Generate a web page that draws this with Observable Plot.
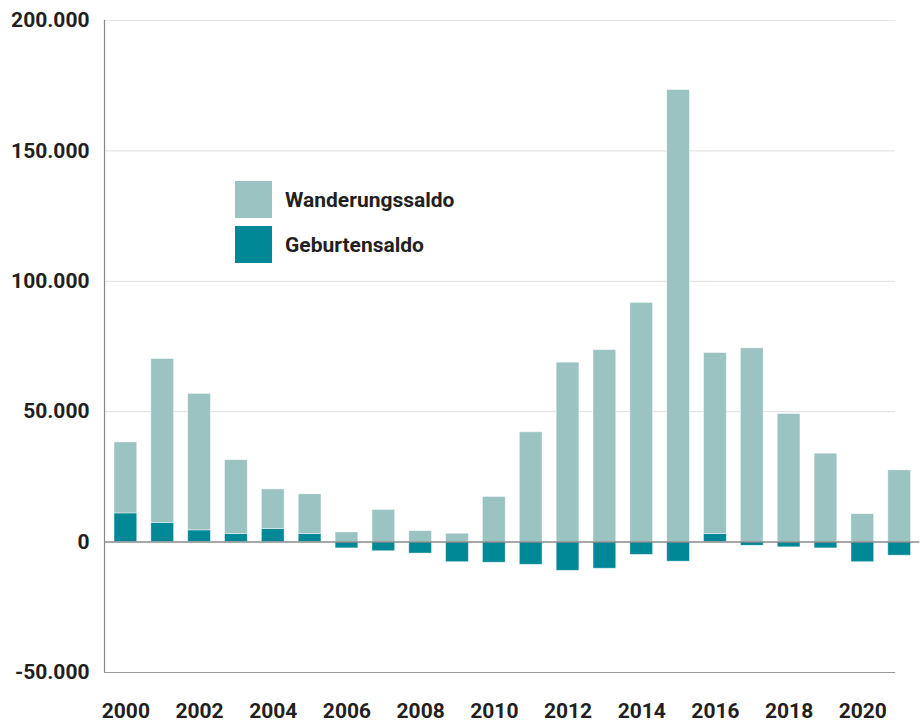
<!DOCTYPE html>
<html>
<head>
<meta charset="utf-8">
<script src="https://cdn.jsdelivr.net/npm/d3@7"></script>
<script src="https://cdn.jsdelivr.net/npm/@observablehq/plot@0.6"></script>
<style>
  html, body { margin: 0; padding: 0; background: #fff; }
  #wrap { position: relative; width: 922px; height: 722px; font-family: Roboto, "Noto Sans", sans-serif; }
  .legend { position: absolute; left: 235px; top: 181px; }
  .item { display: flex; align-items: center; height: 37px; margin-bottom: 8px; }
  .sw { width: 37px; height: 37px; margin-right: 13px; }
  .lab { font-size: 21px; font-weight: 700; color: #231f20; }
</style>
</head>
<body>
<div id="wrap"></div>
<script>
// ---- data ----
const years = [2000, 2001, 2002, 2003, 2004, 2005, 2006, 2007, 2008, 2009, 2010,
               2011, 2012, 2013, 2014, 2015, 2016, 2017, 2018, 2019, 2020, 2021];
const geburtensaldo = [11000, 7300, 4500, 3100, 5000, 3100, -2400, -3500, -4400, -7700, -7900,
                       -8700, -11000, -10200, -4900, -7500, 3100, -1400, -2000, -2400, -7700, -5200];
const wanderungssaldo = [27200, 62900, 52300, 28300, 15200, 15200, 3700, 12300, 4200, 3200, 17300,
                         42100, 68800, 73600, 91700, 173300, 69400, 74300, 49100, 33900, 10700, 27500];
const seriesNames = ["Geburtensaldo", "Wanderungssaldo"];
const seriesColors = ["#008896", "#9bc3c1"];
const yTicks = [-50000, 0, 50000, 100000, 150000, 200000];
const xTicks = [2000, 2002, 2004, 2006, 2008, 2010, 2012, 2014, 2016, 2018, 2020];
const legendOrder = ["Wanderungssaldo", "Geburtensaldo"];

// ---- build table ----
const rows = [];
years.forEach((yr, i) => {
  rows.push({year: yr, series: "Geburtensaldo", value: geburtensaldo[i]});
  rows.push({year: yr, series: "Wanderungssaldo", value: wanderungssaldo[i]});
});

const de = d3.formatLocale({decimal: ",", thousands: ".", grouping: [3], currency: ["", " €"], minus: "-"});
const fmt = de.format(",");

const xMin = 1999.42, xMax = 2021.62, gridEnd = 2020.89;
const half = 0.308;

const chart = Plot.plot({
  width: 922,
  height: 722,
  marginLeft: 104,
  marginRight: 0,
  marginTop: 20,
  marginBottom: 50,
  style: {fontFamily: "Roboto, sans-serif", fontSize: "21px", fontWeight: 700, color: "#231f20", background: "#fff"},
  x: {domain: [xMin, xMax], ticks: xTicks, tickFormat: d => String(d), tickSize: 0, tickPadding: 31, label: null},
  y: {domain: [-50000, 200000], ticks: yTicks, tickFormat: fmt, tickSize: 0, tickPadding: 15, label: null},
  color: {domain: seriesNames, range: seriesColors},
  marks: [
    Plot.ruleY(yTicks.filter(d => d > 0), {x1: xMin, x2: gridEnd, stroke: "#e5e5e5", strokeWidth: 1.2}),
    Plot.rectY(rows, {
      x1: d => d.year - half,
      x2: d => d.year + half,
      y: "value",
      fill: "series",
      stroke: "#ffffff",
      strokeOpacity: 0.5,
      strokeWidth: 0.8
    }),
    Plot.ruleY([0], {x1: xMin, x2: 2021.55, stroke: "#8a8a8a", strokeOpacity: 0.75, strokeWidth: 2}),
    Plot.ruleY([-50000], {x1: xMin, x2: gridEnd, stroke: "#999", strokeWidth: 1.2}),
    Plot.ruleX([xMin], {y1: -50000, y2: 200000, stroke: "#888", strokeWidth: 1.2})
  ]
});

const wrap = document.getElementById("wrap");
wrap.appendChild(chart);

// legend overlay
const leg = document.createElement("div");
leg.className = "legend";
legendOrder.forEach(name => {
  const it = document.createElement("div");
  it.className = "item";
  const sw = document.createElement("div");
  sw.className = "sw";
  sw.style.background = seriesColors[seriesNames.indexOf(name)];
  const lb = document.createElement("span");
  lb.className = "lab";
  lb.textContent = name;
  it.appendChild(sw);
  it.appendChild(lb);
  leg.appendChild(it);
});
wrap.appendChild(leg);
</script>
</body>
</html>
